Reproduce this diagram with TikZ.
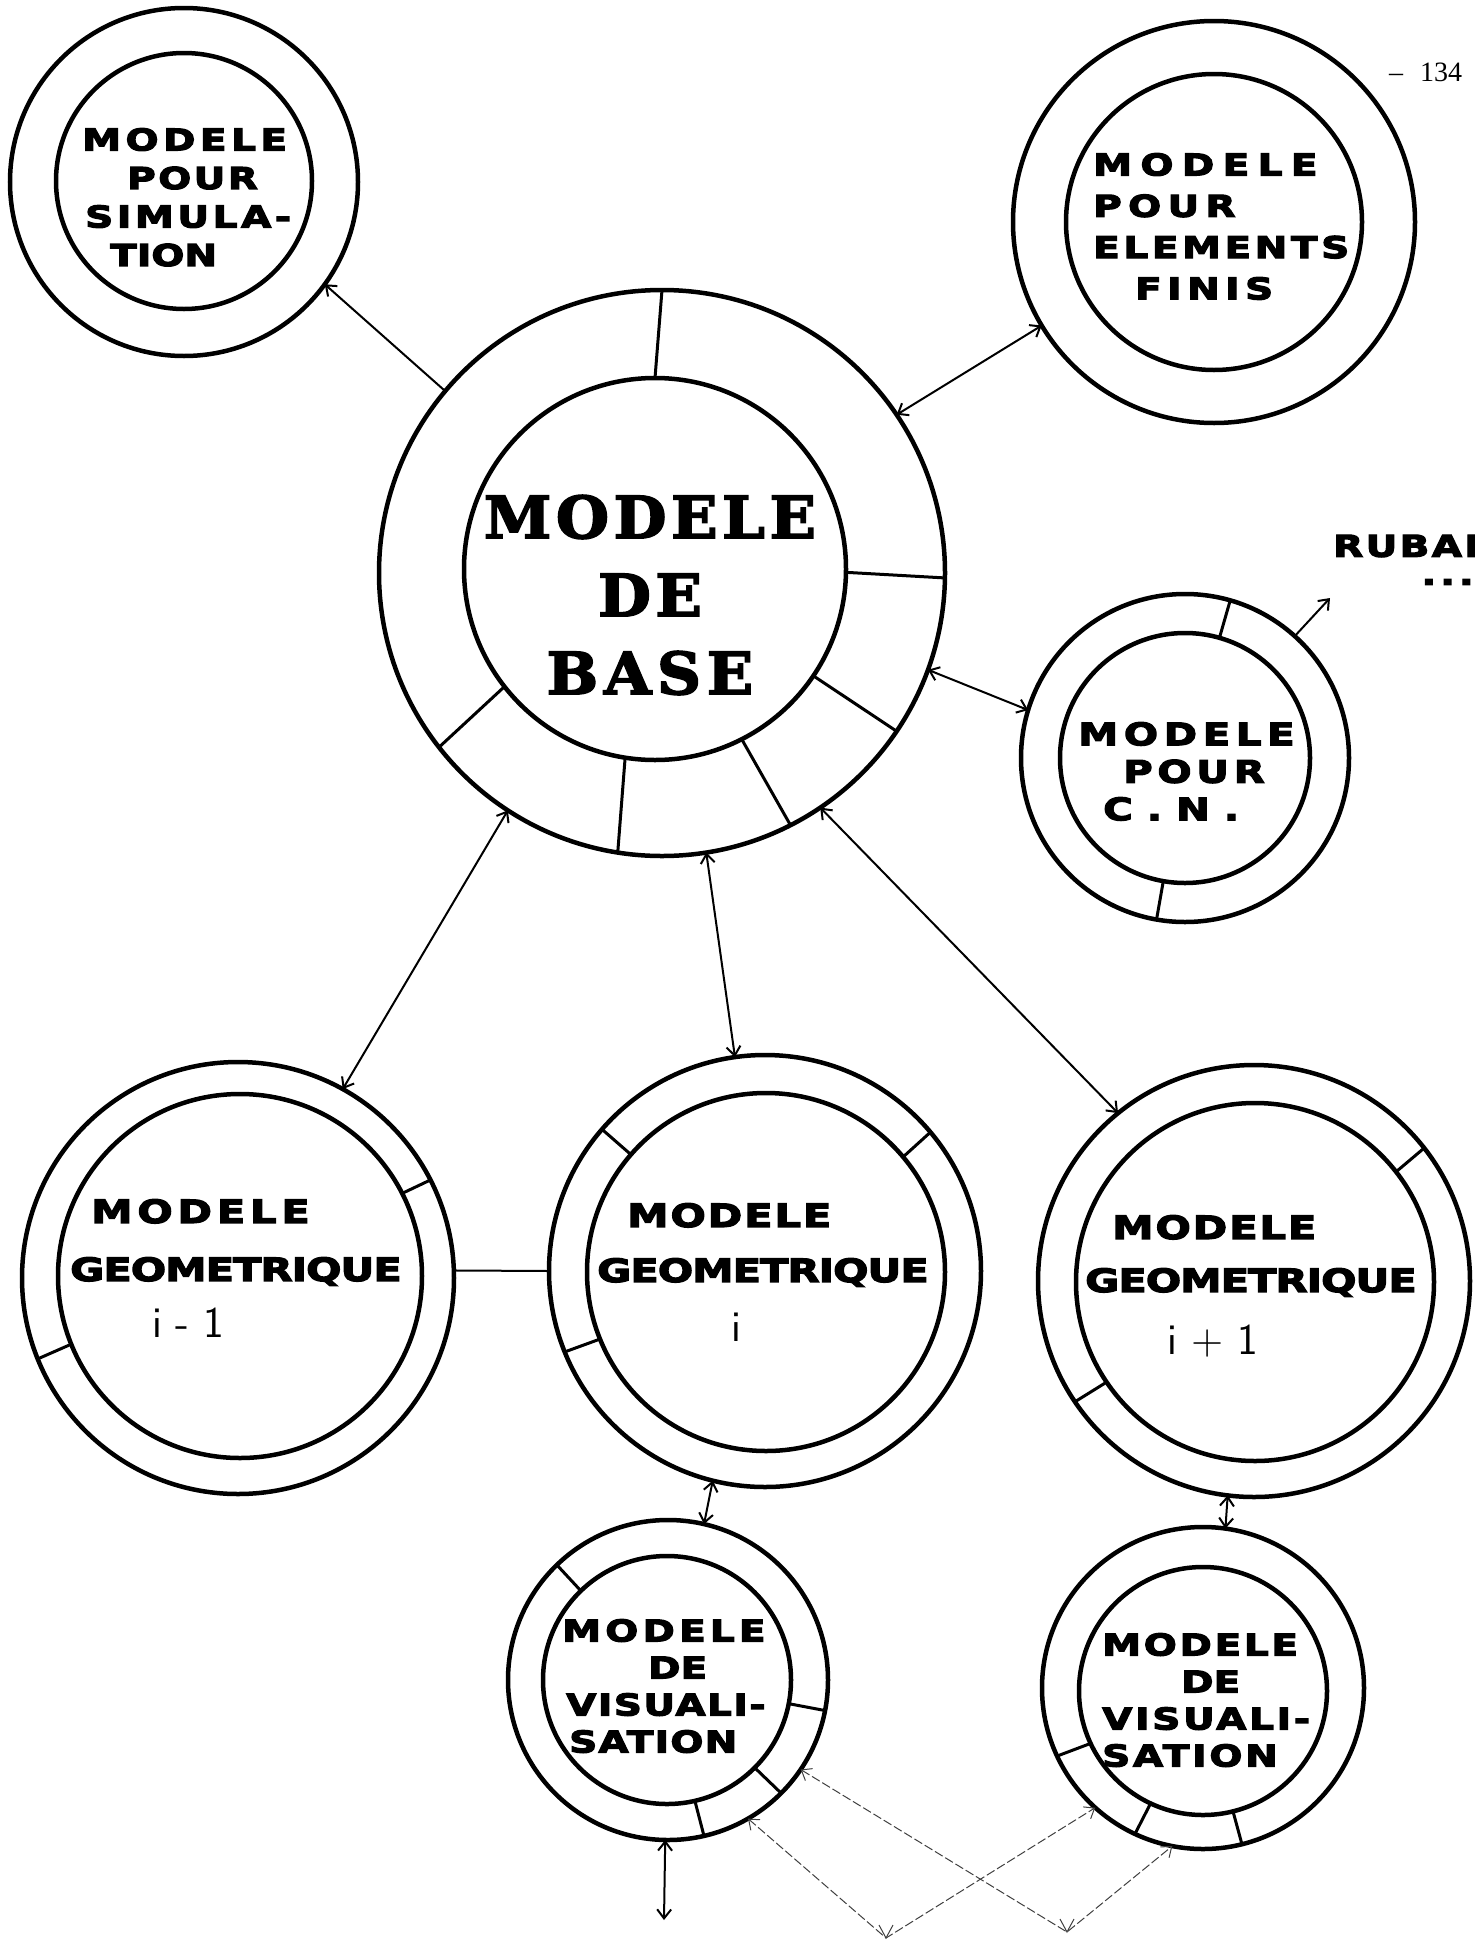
\documentclass[tikz,border=0pt]{standalone}
\usepackage{fontspec}
\usetikzlibrary{arrows.meta}
\newfontfamily\blkfont[FakeStretch=1.3,BoldFeatures={FakeBold=4}]{DejaVu Sans}
\newfontfamily\slabfont[FakeStretch=1.05,BoldFeatures={FakeBold=3}]{DejaVu Serif}
\newfontfamily\pgfont{Liberation Serif}
\newcommand\trk[2]{{\addfontfeature{LetterSpace=#1}#2}}
\tikzset{
  % outer ring of a model
  Ring/.style={circle,draw,line width=4.5pt,minimum size=#1,
               inner sep=0pt,outer sep=0pt},
  % inner disc of a model
  Core/.style={circle,draw,line width=4.5pt,minimum size=#1,
               inner sep=0pt,outer sep=0pt},
  % sector strokes in a ring
  Div/.style={line width=3pt},
  % model titles
  Lbl/.style={inner sep=0pt,align=left,anchor=north west,
              font=\blkfont\bfseries\fontsize{30}{38.5}\selectfont},
  % hand written indices
  Idx/.style={inner sep=0pt,font=\sffamily\fontsize{44}{44}\selectfont},
  % connectors
  Arr/.style ={->,line width=2pt},
  DArr/.style={<->,line width=2pt},
  Lnk/.style ={line width=2pt},
  TArr/.style={<->,line width=1pt,draw=black!75,dash pattern=on 9pt off 3pt},
  TTip/.style={line width=1pt,draw=black!75},
}
\begin{document}
\begin{tikzpicture}[x=1pt,y=-1pt,>={Straight Barb[length=9pt,width=14pt]}]
  \path[use as bounding box,fill=white] (0,0) rectangle (1475,1949);
  \clip (0,0) rectangle (1475,1949);
  % page number
  \node[anchor=west,inner sep=0pt,font=\pgfont\fontsize{28}{28}\selectfont] (pg)
        at (1389,72) {\textendash\hspace{17pt}134};
  % simulation model
  \node[Ring=348pt] (sim) at (184,182) {};
  \node[Core=256pt] (sim-in) at (184,181) {};
  \node[Lbl] (sim-t) at (82,128)
        {\trk{15}{MODELE}\\\hspace*{45pt}\trk{8}{POUR}\\
         \hspace*{3pt}\trk{12}{SIMULA-}\\\hspace*{28pt}TION};
  % finite elements model
  \node[Ring=402pt] (ef) at (1214,222) {};
  \node[Core=296pt] (ef-in) at (1214,222) {};
  \node[Lbl,font=\blkfont\bfseries\fontsize{30}{41.3}\selectfont] (ef-t)
        at (1093,153)
        {\trk{28}{MODELE}\\\trk{21}{POUR}\\\trk{12}{ELEMENTS}\\
         \hspace*{42pt}\trk{18}{FINIS}};
  % base model
  \node[Ring=566pt] (base) at (662,573) {};
  \node[Core=382pt] (base-in) at (655,569) {};
  \node[inner sep=0pt,align=center,
        font=\slabfont\bfseries\fontsize{58}{78}\selectfont] (base-t)
        at (650,595) {\trk{8}{MODELE}\\\trk{8}{DE}\\\trk{10}{BASE}};
  \foreach \a in {90,-1,-34,-63,-99,218}
    \draw[Div] (base-in.\a) -- (base.\a);
  % numerical control model
  \node[Ring=328pt] (cn) at (1185,758) {};
  \node[Core=250pt] (cn-in) at (1185,758) {};
  \node[Lbl,font=\blkfont\bfseries\fontsize{31}{37.5}\selectfont] (cn-t)
        at (1078,722)
        {\trk{18}{MODELE}\\\hspace*{45pt}\trk{15}{POUR}\\\hspace*{25pt}C . N .};
  \foreach \a in {74,-100}
    \draw[Div] (cn-in.\a) -- (cn.\a);
  \node[anchor=west,inner sep=0pt,
        font=\blkfont\bfseries\fontsize{30}{30}\selectfont] (rub)
        at (1333,546) {\trk{8}{RUBAN}};
  \node[anchor=east,inner sep=0pt,
        font=\blkfont\bfseries\fontsize{30}{30}\selectfont] (rub-dots)
        at (1474,582) {.\hspace{4pt}.\hspace{4pt}.};
  % geometric models
  \node[Ring=432pt] (gA) at (238,1278) {};
  \node[Core=364pt] (gA-in) at (240,1276) {};
  \node[Lbl,font=\blkfont\bfseries\fontsize{32}{58}\selectfont] (gA-t)
        at (70,1199) {\hspace*{21pt}\trk{15}{MODELE}\\\trk{-3}{GEOMETRIQUE}};
  \node[Idx] (gA-i) at (188,1323) {i - 1};
  \foreach \a in {27,202}
    \draw[Div] (gA-in.\a) -- (gA.\a);

  \node[Ring=432pt] (gB) at (765,1271) {};
  \node[Core=358pt] (gB-in) at (766,1272) {};
  \node[Lbl,font=\blkfont\bfseries\fontsize{32}{55}\selectfont] (gB-t)
        at (597,1203) {\hspace*{30pt}\trk{6}{MODELE}\\\trk{-3}{GEOMETRIQUE}};
  \node[Idx] (gB-i) at (736,1327) {i};
  \foreach \a in {139,40,202}
    \draw[Div] (gB-in.\a) -- (gB.\a);

  \node[Ring=432pt] (gC) at (1254,1281) {};
  \node[Core=358pt] (gC-in) at (1255,1282) {};
  \node[Lbl,font=\blkfont\bfseries\fontsize{32}{53}\selectfont] (gC-t)
        at (1085,1215) {\hspace*{27pt}\trk{6}{MODELE}\\\trk{-3}{GEOMETRIQUE}};
  \node[Idx] (gC-i) at (1213,1341) {i + 1};
  \foreach \a in {38,214}
    \draw[Div] (gC-in.\a) -- (gC.\a);
  % visualisation models
  \node[Ring=320pt] (vA) at (668,1680) {};
  \node[Core=248pt] (vA-in) at (667,1680) {};
  \node[Lbl,font=\blkfont\bfseries\fontsize{30}{37}\selectfont] (vA-t)
        at (562,1619)
        {\trk{14}{MODELE}\\\hspace*{86pt}DE\\
         \hspace*{4pt}\trk{5}{VISUALI-}\\\hspace*{7pt}\trk{4}{SATION}};
  \foreach \a in {134,-11,-45,-77}
    \draw[Div] (vA-in.\a) -- (vA.\a);

  \node[Ring=322pt] (vB) at (1203,1688) {};
  \node[Core=248pt] (vB-in) at (1203,1691) {};
  \node[Lbl,font=\blkfont\bfseries\fontsize{30}{37}\selectfont] (vB-t)
        at (1102,1633)
        {\trk{9}{MODELE}\\\hspace*{79pt}DE\\
         \trk{9}{VISUALI-}\\\trk{9}{SATION}};
  \foreach \a in {205,245,-76}
    \draw[Div] (vB-in.\a) -- (vB.\a);
  % links from the base model
  \draw[Arr]  (base.140) -- (sim.-36);
  \draw[DArr] (base.34)  -- (ef.211);
  \draw[DArr] (base.-20) -- (cn.163);
  \draw[DArr] (base.237) -- (gA.61);
  \draw[DArr] (base.279) -- (gB.98);
  \draw[DArr] (base.304) -- (gC.129);
  % other links
  \coordinate (rub-end) at (1330,598);
  \draw[Arr]  (cn.48) -- (rub-end);
  \draw[Lnk]  (gA.2) -- (gB.180);
  \draw[DArr] (gB.256) -- (vA.77);
  \draw[DArr] (gC.263) -- (vB.82);
  \coordinate (vA-end) at (664,1920);
  \draw[DArr] (vA.269) -- (vA-end);
  % crossing thin links
  \coordinate (v1) at (886,1938);
  \coordinate (v2) at (1067,1932);
  \draw[TArr] (vA.-60) -- (v1) -- (vB.228);
  \draw[TArr] (vA.-34) -- (v2) -- (vB.259);
  \draw[TTip] ([xshift=-7pt,yshift=13pt]v1) -- (v1) -- ([xshift=7pt,yshift=13pt]v1);
  \draw[TTip] ([xshift=-7pt,yshift=13pt]v2) -- (v2) -- ([xshift=7pt,yshift=13pt]v2);
\end{tikzpicture}
\end{document}
